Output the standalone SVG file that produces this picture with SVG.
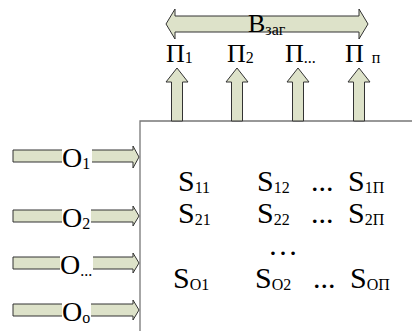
<svg xmlns="http://www.w3.org/2000/svg" width="412" height="331" viewBox="0 0 412 331">
<style>
.ar{fill:#dde2c9;stroke:#333;stroke-width:1}
text{font-family:Liberation Serif, DejaVu Serif, serif}
.big{font-size:26px}
.o{font-size:28px}
.s{font-size:30px}
.sub{font-size:16px}
.bg{fill:#fff}
</style>
<rect width="412" height="331" fill="#fff"/>
<g id="box">
<polyline points="412,121 140,121 140,331" fill="none" stroke="#777" stroke-width="1.3"/>
</g>
<g id="connectors">
<polygon class="ar" points="166,24 175,9 175,16 359,16 359,9 368,24 359,39 359,32 175,32 175,39"/>
<polygon class="ar" points="171.5,121 171.5,82 166,82 177,68 188,82 182.5,82 182.5,121"/>
<polygon class="ar" points="231.5,121 231.5,82 226,82 237,68 248,82 242.5,82 242.5,121"/>
<polygon class="ar" points="292.5,121 292.5,82 287,82 298,68 309,82 303.5,82 303.5,121"/>
<polygon class="ar" points="353.5,121 353.5,82 348,82 359,68 370,82 364.5,82 364.5,121"/>
<polygon class="ar" points="13,150 133,150 133,146 139,157 133,168 133,162 13,162"/>
<polygon class="ar" points="13,210 133,210 133,206 139,216 133,226 133,222 13,222"/>
<polygon class="ar" points="13,257 133,257 133,253 139,263 133,273 133,269 13,269"/>
<polygon class="ar" points="13,304 133,304 133,300 139,310 133,320 133,316 13,316"/>
</g>
<g fill="#000">
<g id="b-zag">
<text class="big" x="248" y="32">B<tspan class="sub" dy="3">заг</tspan></text>
</g>
<g id="p1"><text class="big" x="166" y="62">Π<tspan class="sub" dy="1">1</tspan></text></g>
<g id="p2"><text class="big" x="227" y="62">Π<tspan class="sub" dy="1">2</tspan></text></g>
<g id="p3"><text class="big" x="285" y="62">Π<tspan class="sub" dy="1">...</tspan></text></g>
<g id="p4"><text class="big" x="345" y="62">Π<tspan class="sub" dx="8" dy="1">п</tspan></text></g>
<g id="o1"><rect class="bg" x="62" y="148" width="30" height="20"/><text class="o" x="62" y="167">O<tspan class="sub" dy="2">1</tspan></text></g>
<g id="o2"><rect class="bg" x="62" y="208" width="29" height="20"/><text class="o" x="62" y="227">O<tspan class="sub" dy="2">2</tspan></text></g>
<g id="o3"><rect class="bg" x="60" y="255" width="33" height="20"/><text class="o" x="60" y="274">O<tspan class="sub" dy="2">...</tspan></text></g>
<g id="o4"><rect class="bg" x="62" y="302" width="29" height="20"/><text class="o" x="62" y="321">O<tspan class="sub" dy="2">o</tspan></text></g>
<g id="matrix">
<text class="s" x="178" y="191">S<tspan class="sub" dy="2">11</tspan></text>
<text class="s" x="257" y="191">S<tspan class="sub" dy="2">12</tspan></text>
<text class="s" x="311" y="191">...</text>
<text class="s" x="348" y="191">S<tspan class="sub" dy="2">1Π</tspan></text>
<text class="s" x="178" y="223">S<tspan class="sub" dy="2">21</tspan></text>
<text class="s" x="257" y="223">S<tspan class="sub" dy="2">22</tspan></text>
<text class="s" x="311" y="223">...</text>
<text class="s" x="348" y="223">S<tspan class="sub" dy="2">2Π</tspan></text>
<text class="s" x="268" y="255">…</text>
<text class="s" x="173" y="288">S<tspan class="sub" dy="2">O1</tspan></text>
<text class="s" x="255" y="288">S<tspan class="sub" dy="2">O2</tspan></text>
<text class="s" x="313" y="288">...</text>
<text class="s" x="350" y="288">S<tspan class="sub" dy="2">OΠ</tspan></text>
</g>
</g>
</svg>
